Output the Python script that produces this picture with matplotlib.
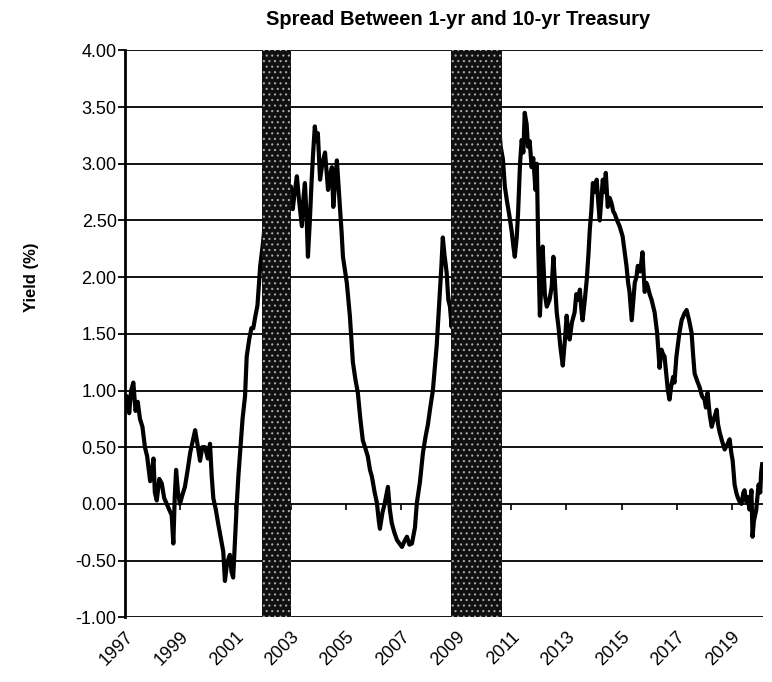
import matplotlib
matplotlib.use("Agg")
import matplotlib.pyplot as plt
import matplotlib.ticker as mticker

plt.rcParams['font.family'] = ['Liberation Sans', 'DejaVu Sans']
plt.rcParams['axes.unicode_minus'] = False
plt.rcParams['hatch.linewidth'] = 0.8

# Datos (anio decimal, spread en %)
years = [
    1997.00, 1997.06, 1997.15, 1997.22, 1997.30, 1997.38, 1997.46, 1997.54, 1997.63, 1997.72,
    1997.80, 1997.91, 1997.97, 1998.03, 1998.08, 1998.15, 1998.24, 1998.33, 1998.42, 1998.51,
    1998.60, 1998.69, 1998.75, 1998.80, 1998.85, 1998.92, 1998.99, 1999.08, 1999.17, 1999.27,
    1999.36, 1999.45, 1999.54, 1999.63, 1999.72, 1999.80, 1999.90, 2000.00, 2000.08, 2000.14,
    2000.20, 2000.29, 2000.38, 2000.47, 2000.56, 2000.62, 2000.70, 2000.80, 2000.86, 2000.92,
    2000.98, 2001.05, 2001.11, 2001.17, 2001.26, 2001.35, 2001.41, 2001.50, 2001.58, 2001.65,
    2001.72, 2001.80, 2001.90, 2002.00, 2002.10, 2002.20, 2002.30, 2002.40, 2002.50, 2002.60,
    2002.70, 2002.80, 2002.90, 2003.01, 2003.08, 2003.15, 2003.23, 2003.30, 2003.41, 2003.47,
    2003.52, 2003.58, 2003.63, 2003.70, 2003.76, 2003.82, 2003.88, 2003.94, 2003.99, 2004.07,
    2004.15, 2004.25, 2004.30, 2004.36, 2004.43, 2004.50, 2004.55, 2004.62, 2004.68, 2004.74,
    2004.79, 2004.85, 2004.90, 2004.95, 2005.04, 2005.15, 2005.26, 2005.35, 2005.44, 2005.53,
    2005.62, 2005.70, 2005.80, 2005.88, 2005.95, 2006.05, 2006.13, 2006.20, 2006.24, 2006.33,
    2006.42, 2006.53, 2006.60, 2006.67, 2006.76, 2006.86, 2006.95, 2007.04, 2007.13, 2007.22,
    2007.31, 2007.40, 2007.51, 2007.58, 2007.69, 2007.80, 2007.90, 2007.98, 2008.06, 2008.16,
    2008.30, 2008.41, 2008.47, 2008.52, 2008.58, 2008.66, 2008.72, 2008.78, 2008.84, 2008.92,
    2009.00, 2009.08, 2009.18, 2009.28, 2009.38, 2009.48, 2009.58, 2009.68, 2009.80, 2009.92,
    2010.04, 2010.16, 2010.28, 2010.40, 2010.52, 2010.62, 2010.70, 2010.77, 2010.84, 2010.93,
    2011.02, 2011.08, 2011.13, 2011.20, 2011.25, 2011.32, 2011.38, 2011.44, 2011.49, 2011.56,
    2011.61, 2011.67, 2011.74, 2011.80, 2011.88, 2011.93, 2011.98, 2012.04, 2012.10, 2012.14,
    2012.22, 2012.29, 2012.39, 2012.47, 2012.53, 2012.60, 2012.65, 2012.72, 2012.78, 2012.87,
    2012.95, 2013.01, 2013.07, 2013.12, 2013.20, 2013.30, 2013.36, 2013.43, 2013.49, 2013.55,
    2013.59, 2013.67, 2013.74, 2013.80, 2013.85, 2013.91, 2013.96, 2014.03, 2014.10, 2014.16,
    2014.21, 2014.27, 2014.32, 2014.38, 2014.43, 2014.50, 2014.57, 2014.64, 2014.70, 2014.75,
    2014.84, 2014.93, 2015.04, 2015.10, 2015.18, 2015.24, 2015.29, 2015.37, 2015.43, 2015.48,
    2015.54, 2015.59, 2015.68, 2015.76, 2015.84, 2015.90, 2015.95, 2016.02, 2016.09, 2016.20,
    2016.29, 2016.38, 2016.45, 2016.49, 2016.56, 2016.62, 2016.68, 2016.74, 2016.81, 2016.87,
    2016.92, 2016.99, 2017.10, 2017.18, 2017.28, 2017.36, 2017.45, 2017.54, 2017.60, 2017.65,
    2017.75, 2017.83, 2017.92, 2018.01, 2018.06, 2018.12, 2018.20, 2018.27, 2018.35, 2018.45,
    2018.50, 2018.56, 2018.65, 2018.74, 2018.83, 2018.92, 2018.98, 2019.03, 2019.10, 2019.16,
    2019.21, 2019.28, 2019.35, 2019.42, 2019.46, 2019.52, 2019.57, 2019.64, 2019.71, 2019.75,
    2019.80, 2019.88, 2019.97, 2020.03, 2020.06, 2020.10,
]
spread = [
    0.85, 0.95, 0.80, 1.00, 1.07, 0.82, 0.90, 0.75, 0.68, 0.50,
    0.42, 0.20, 0.28, 0.40, 0.10, 0.03, 0.22, 0.18, 0.05, 0.00,
    -0.05, -0.10, -0.35, 0.05, 0.30, 0.10, 0.00, 0.08, 0.15, 0.30,
    0.45, 0.55, 0.65, 0.52, 0.38, 0.50, 0.50, 0.40, 0.53, 0.25,
    0.05, -0.05, -0.18, -0.30, -0.42, -0.68, -0.52, -0.45, -0.60, -0.65,
    -0.35, 0.00, 0.25, 0.45, 0.75, 0.95, 1.30, 1.45, 1.55, 1.55,
    1.65, 1.75, 2.10, 2.30, 2.55, 2.40, 2.60, 2.75, 2.55, 2.80,
    2.65, 2.75, 2.55, 2.80, 2.60, 2.75, 2.89, 2.70, 2.45, 2.70,
    2.83, 2.55, 2.18, 2.50, 2.83, 3.10, 3.33, 3.20, 3.27, 2.86,
    3.00, 3.10, 2.95, 2.77, 2.90, 2.97, 2.62, 2.85, 3.03, 2.80,
    2.62, 2.40, 2.18, 2.10, 1.95, 1.66, 1.25, 1.10, 0.98, 0.75,
    0.56, 0.50, 0.42, 0.30, 0.24, 0.10, 0.01, -0.15, -0.22, -0.08,
    0.01, 0.15, -0.05, -0.17, -0.25, -0.32, -0.35, -0.38, -0.33, -0.29,
    -0.36, -0.35, -0.21, 0.01, 0.19, 0.45, 0.60, 0.70, 0.84, 1.00,
    1.40, 1.85, 2.10, 2.35, 2.20, 2.04, 1.80, 1.74, 1.56, 2.00,
    2.45, 1.95, 2.60, 2.40, 3.10, 2.80, 3.35, 3.05, 3.45, 3.20,
    3.55, 3.30, 3.60, 3.25, 3.45, 3.15, 3.04, 2.80, 2.68, 2.55,
    2.40, 2.27, 2.18, 2.35, 2.57, 3.00, 3.21, 3.10, 3.45, 3.35,
    3.15, 3.20, 2.97, 3.05, 2.77, 3.00, 2.27, 1.66, 2.00, 2.27,
    1.85, 1.74, 1.80, 1.92, 2.18, 1.90, 1.69, 1.55, 1.39, 1.22,
    1.45, 1.66, 1.50, 1.45, 1.60, 1.69, 1.85, 1.80, 1.89, 1.70,
    1.62, 1.80, 1.98, 2.20, 2.42, 2.60, 2.83, 2.75, 2.86, 2.65,
    2.50, 2.70, 2.86, 2.75, 2.92, 2.62, 2.70, 2.65, 2.58, 2.56,
    2.50, 2.45, 2.36, 2.25, 2.10, 1.95, 1.87, 1.62, 1.80, 1.95,
    2.00, 2.10, 2.05, 2.22, 1.87, 1.95, 1.92, 1.85, 1.80, 1.69,
    1.51, 1.20, 1.36, 1.33, 1.30, 1.15, 1.00, 0.92, 1.05, 1.12,
    1.07, 1.30, 1.51, 1.62, 1.68, 1.71, 1.62, 1.51, 1.30, 1.15,
    1.08, 1.03, 0.95, 0.92, 0.85, 0.98, 0.78, 0.68, 0.75, 0.83,
    0.70, 0.63, 0.55, 0.48, 0.52, 0.57, 0.45, 0.38, 0.17, 0.10,
    0.06, 0.02, 0.00, 0.10, 0.12, 0.02, 0.06, -0.05, 0.12, -0.29,
    -0.15, -0.06, 0.17, 0.10, 0.27, 0.35,
]

# Bandas sombreadas (recesiones)
bandas = [(2001.97, 2003.00), (2008.82, 2010.66)]

tick_years = list(range(1997, 2020, 2))
y_ticks = [-1.0, -0.5, 0.0, 0.5, 1.0, 1.5, 2.0, 2.5, 3.0, 3.5, 4.0]

fig = plt.figure(figsize=(7.72, 6.82), dpi=100)
ax = fig.add_axes([0.162, 0.095, 0.826, 0.831])

ax.plot(years, spread, color='black', lw=3, zorder=3)

for ini, fin in bandas:
    ax.axvspan(ini, fin, facecolor='#101010', edgecolor='#a8a8a8',
               hatch='...', lw=0, zorder=4)

ax.set_xlim(1997, 2020.12)
ax.set_ylim(-1, 4)
ax.set_yticks(y_ticks)
ax.yaxis.set_major_formatter(mticker.FormatStrFormatter('%.2f'))
ax.yaxis.grid(True, color='black', lw=1.3, zorder=2)
ax.set_axisbelow(False)

for s in ['top', 'right', 'bottom']:
    ax.spines[s].set_visible(False)
ax.spines['left'].set_linewidth(2)

ax.tick_params(axis='y', direction='out', length=5, width=1.3,
               labelsize=13, pad=1)
ax.set_xticks(tick_years)
ax.set_xticklabels([str(y) for y in tick_years], rotation=45, ha='right',
                   rotation_mode='anchor', fontsize=13)
ax.tick_params(axis='x', length=0, pad=8)

# marcas del eje x sobre la linea de 0.00
sec = ax.secondary_xaxis(0.2)
sec.set_xticks(tick_years)
sec.set_xticklabels([])
sec.tick_params(direction='out', length=4, width=1.2)
sec.spines['bottom'].set_visible(False)

ax.set_ylabel('Yield (%)', fontsize=12, fontweight='bold')
ax.yaxis.set_label_coords(-0.135, 0.6)
fig.text(0.593, 0.972, 'Spread Between 1-yr and 10-yr Treasury',
         ha='center', va='center', fontsize=14.5, fontweight='bold')

fig.savefig('out.png', dpi=100)
